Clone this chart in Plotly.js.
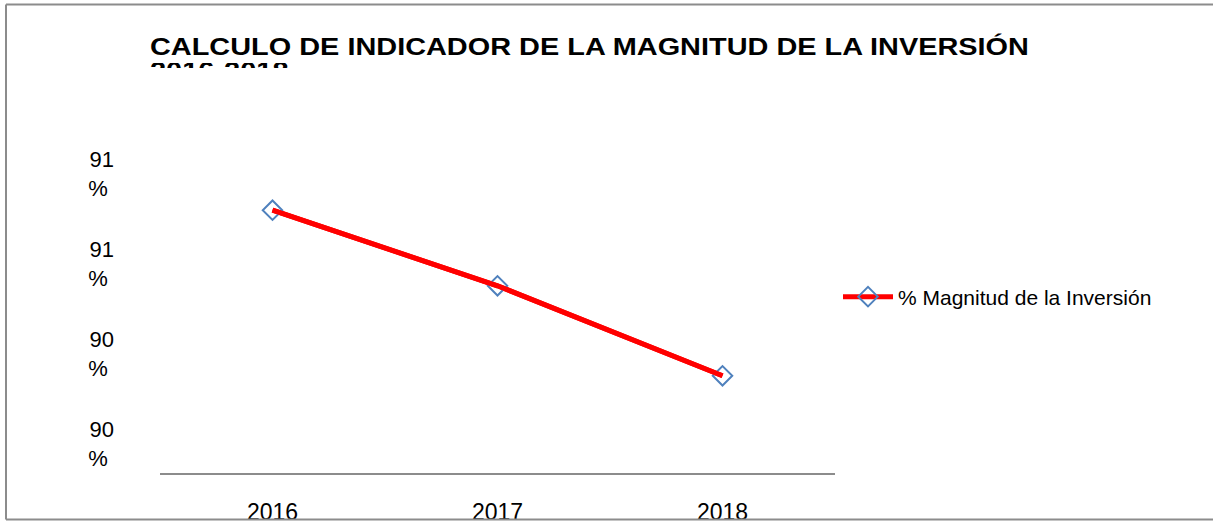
<!DOCTYPE html>
<html>
<head>
<meta charset="utf-8">
<script src="https://cdn.plot.ly/plotly-3.0.1.min.js"></script>
<style>
  html, body { margin: 0; padding: 0; background: #fff; }
  #wrap { position: relative; width: 1213px; height: 521px; }
  #chart { width: 1213px; height: 521px; }
  #sub { position: absolute; left: 150px; top: 63px; height: 5px; width: 300px; overflow: hidden; pointer-events: none; }
  #sub span { display: inline-block; margin-top: -5px; font-family: "Liberation Sans", Arial, sans-serif; font-weight: bold; font-size: 23px; line-height: 26px; color: #000; transform: scaleX(1.26); transform-origin: 0 50%; }
  .gtitle { transform-box: fill-box; transform-origin: 0 50%; transform: scaleX(1.256); }
</style>
</head>
<body>
<div id="wrap">
  <div id="chart"></div>
  <div id="sub"><span>2016-2018</span></div>
</div>
<script>
const years = ['2016', '2017', '2018'];
const magnitud = [90.73, 90.52, 90.27];
const seriesName = '% Magnitud de la Inversión';
const yTickVals = [90.0, 90.25, 90.5, 90.75];
const yTickText = ['90<br>%\u00A0', '90<br>%\u00A0', '91<br>%\u00A0', '91<br>%\u00A0'];
const chartTitle = 'CALCULO DE INDICADOR DE LA MAGNITUD DE LA INVERSIÓN';

const font = 'Liberation Sans, Arial, sans-serif';

const traces = [
  {
    x: years, y: magnitud, name: seriesName, type: 'scatter', mode: 'lines+markers',
    line: { color: '#FF0000', width: 5 },
    marker: { symbol: 'diamond-open', size: 15, color: '#4F81BD', line: { color: '#4F81BD', width: 2 } },
    showlegend: true
  },
  {
    x: years, y: magnitud, type: 'scatter', mode: 'lines',
    line: { color: '#FF0000', width: 5 },
    showlegend: false, hoverinfo: 'skip'
  }
];

const L = 160, R = 1213 - 835, T = 113, B = 521 - 473;
const W = 1213 - L - R, H = 521 - T - B;
const px = v => (v - L) / W;
const py = v => (521 - B - v) / H;

const layout = {
  width: 1213, height: 521,
  margin: { l: L, r: R, t: T, b: B, pad: 0 },
  paper_bgcolor: '#ffffff', plot_bgcolor: '#ffffff',
  font: { family: font, color: '#000' },
  title: {
    text: '<b>' + chartTitle + '</b>',
    font: { family: font, size: 23, color: '#000' },
    x: 150 / 1213, xanchor: 'left', xref: 'container',
    y: 1 - 47 / 521, yanchor: 'middle', yref: 'container'
  },
  xaxis: {
    type: 'category', range: [-0.5, 2.5],
    showline: true, linecolor: '#8c8c8c', linewidth: 2,
    showgrid: false, zeroline: false, ticks: '',
    tickfont: { family: font, size: 23, color: '#000' },
    ticklabelstandoff: 17
  },
  yaxis: {
    range: [90.0, 91.0],
    tickvals: yTickVals, ticktext: yTickText,
    showline: false, showgrid: false, zeroline: false, ticks: '',
    tickfont: { family: font, size: 22, color: '#000' },
    ticklabelstandoff: 45, ticklabelshift: -29
  },
  legend: {
    x: px(838), xanchor: 'left', y: py(297), yanchor: 'middle',
    font: { family: font, size: 21, color: '#000' },
    itemwidth: 50,
    bgcolor: 'rgba(0,0,0,0)', borderwidth: 0
  },
  shapes: [
    { type: 'line', xref: 'paper', yref: 'paper', x0: px(6), x1: px(1213), y0: py(4.5), y1: py(4.5), line: { color: '#8c8c8c', width: 2 } },
    { type: 'line', xref: 'paper', yref: 'paper', x0: px(6), x1: px(6), y0: py(4.5), y1: py(519.5), line: { color: '#8c8c8c', width: 2 } },
    { type: 'line', xref: 'paper', yref: 'paper', x0: px(6), x1: px(1213), y0: py(519.5), y1: py(519.5), line: { color: '#8c8c8c', width: 2 } }
  ],
  showlegend: true
};

Plotly.newPlot('chart', traces, layout, { displayModeBar: false, staticPlot: true });
</script>
</body>
</html>
